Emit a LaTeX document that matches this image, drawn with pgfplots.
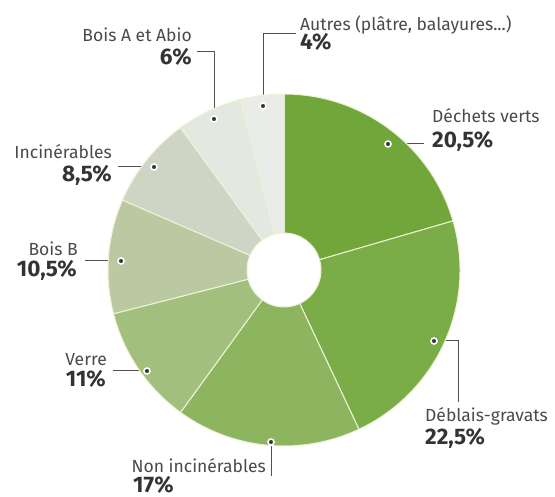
\documentclass[border=0pt]{standalone}
\usepackage{fontspec}
\setmainfont{Fira Sans}
\usepackage{pgfplots}
\usepackage{pgfplotstable}
\pgfplotsset{compat=1.18}

\definecolor{c1}{HTML}{70A63A}
\definecolor{c2}{HTML}{7AAC48}
\definecolor{c3}{HTML}{8DB560}
\definecolor{c4}{HTML}{A2BF7D}
\definecolor{c5}{HTML}{BAC9A2}
\definecolor{c6}{HTML}{CED5C5}
\definecolor{c7}{HTML}{E3E8E1}
\definecolor{c8}{HTML}{E9ECE8}
\definecolor{sep}{HTML}{EEF3D6}
\definecolor{lead}{HTML}{505050}
\definecolor{dot}{HTML}{333333}
\definecolor{nametext}{HTML}{4A4A4A}
\definecolor{pcttext}{HTML}{333333}

\tikzset{
    lname/.style={font=\fontsize{17.5}{17.5}\selectfont, text=nametext, inner sep=0pt},
    lpct/.style={font=\fontsize{22.5}{22.5}\selectfont\bfseries, text=pcttext, inner sep=0pt},
}

% share in percent, start = cumulated share before the slice, (cx,cy) = centre
\pgfplotstableread{
cx  cy  share start idx
284 270 20.5 0    0
284 270 22.5 20.5 1
284 270 17   43   2
284 270 11   60   3
284 270 10.5 71   4
284 270 8.5  81.5 5
284 270 6    90   6
284 270 4    96   7
}\parts

\begin{document}
\begin{tikzpicture}
\begin{axis}[
    width=555pt, height=497pt, scale only axis,
    xmin=0, xmax=555, ymin=0, ymax=497,
    y dir=reverse,
    hide axis, clip=false,
    colormap={slices}{color=(c1) color=(c2) color=(c3) color=(c4)
                      color=(c5) color=(c6) color=(c7) color=(c8)},
]

% donut slices, drawn at the centre from the table
\addplot[scatter, only marks, mark=*, mark size=0pt,
    mark options={draw=white, fill=white},
    point meta=explicit, point meta min=0, point meta max=7,
    visualization depends on={\thisrow{start} \as \pstart},
    visualization depends on={\thisrow{share} \as \pshare},
    scatter/@pre marker code/.code={
        \expandafter\pgfplotscolormapdefinemappedcolor\expandafter{\pgfplotspointmetatransformed}
        \pgfmathsetmacro\sa{90-3.6*\pstart}
        \pgfmathsetmacro\sb{90-3.6*(\pstart+\pshare)}
        \filldraw[fill=mapped color, draw=sep, line width=1pt, line join=round]
            (\sa:176pt) arc[start angle=\sa, end angle=\sb, radius=176pt]
            -- (\sb:37pt) arc[start angle=\sb, end angle=\sa, radius=37pt] -- cycle;
    },
    scatter/@post marker code/.code={},
] table[x=cx, y=cy, meta=idx] {\parts};

% leader lines
\addplot[draw=lead, line width=1pt, mark=none] coordinates {(263,106) (263,34) (296,34)};
\addplot[draw=lead, line width=1pt, mark=none] coordinates {(214,119) (214,52) (197,52)};
\addplot[draw=lead, line width=1pt, mark=none] coordinates {(154,167) (118,167)};
\addplot[draw=lead, line width=1pt, mark=none] coordinates {(121,261) (85,261)};
\addplot[draw=lead, line width=1pt, mark=none] coordinates {(147,371) (113,371)};
\addplot[draw=lead, line width=1pt, mark=none] coordinates {(388,144) (424,144)};
\addplot[draw=lead, line width=1pt, mark=none] coordinates {(434,341) (458,341) (458,402)};
\addplot[draw=lead, line width=1pt, mark=none] coordinates {(271,442) (271,476)};

% dots
\addplot[only marks, mark=*, mark size=3pt,
    mark options={fill=dot, draw=white, line width=1.6pt}]
    coordinates {(388,144) (434,341) (271,442) (147,371) (121,261) (154,167) (214,119) (263,106)};

% labels
\node[lname, anchor=base west] at (axis cs:300,31) {Autres (plâtre, balayures...)};
\node[lpct, anchor=base west] at (axis cs:300,50) {4\%};
\node[lname, anchor=base east] at (axis cs:192,42) {Bois A et Abio};
\node[lpct, anchor=base east] at (axis cs:192,65) {6\%};
\node[lname, anchor=base east] at (axis cs:112,159) {Incinérables};
\node[lpct, anchor=base east] at (axis cs:112,182) {8,5\%};
\node[lname, anchor=base east] at (axis cs:78,256) {Bois B};
\node[lpct, anchor=base east] at (axis cs:77,277) {10,5\%};
\node[lname, anchor=base east] at (axis cs:107,366) {Verre};
\node[lpct, anchor=base east] at (axis cs:106,387) {11\%};
\node[lname, anchor=base west] at (axis cs:432,123) {Déchets verts};
\node[lpct, anchor=base west] at (axis cs:432,148) {20,5\%};
\node[lname, anchor=base west] at (axis cs:425,421) {Déblais-gravats};
\node[lpct, anchor=base west] at (axis cs:425,444) {22,5\%};
\node[lname, anchor=base east] at (axis cs:266,472) {Non incinérables};
\node[lpct, anchor=base west] at (axis cs:133,492) {17\%};

\path (rel axis cs:0,0) rectangle (rel axis cs:1,1);
\end{axis}
\end{tikzpicture}
\end{document}
